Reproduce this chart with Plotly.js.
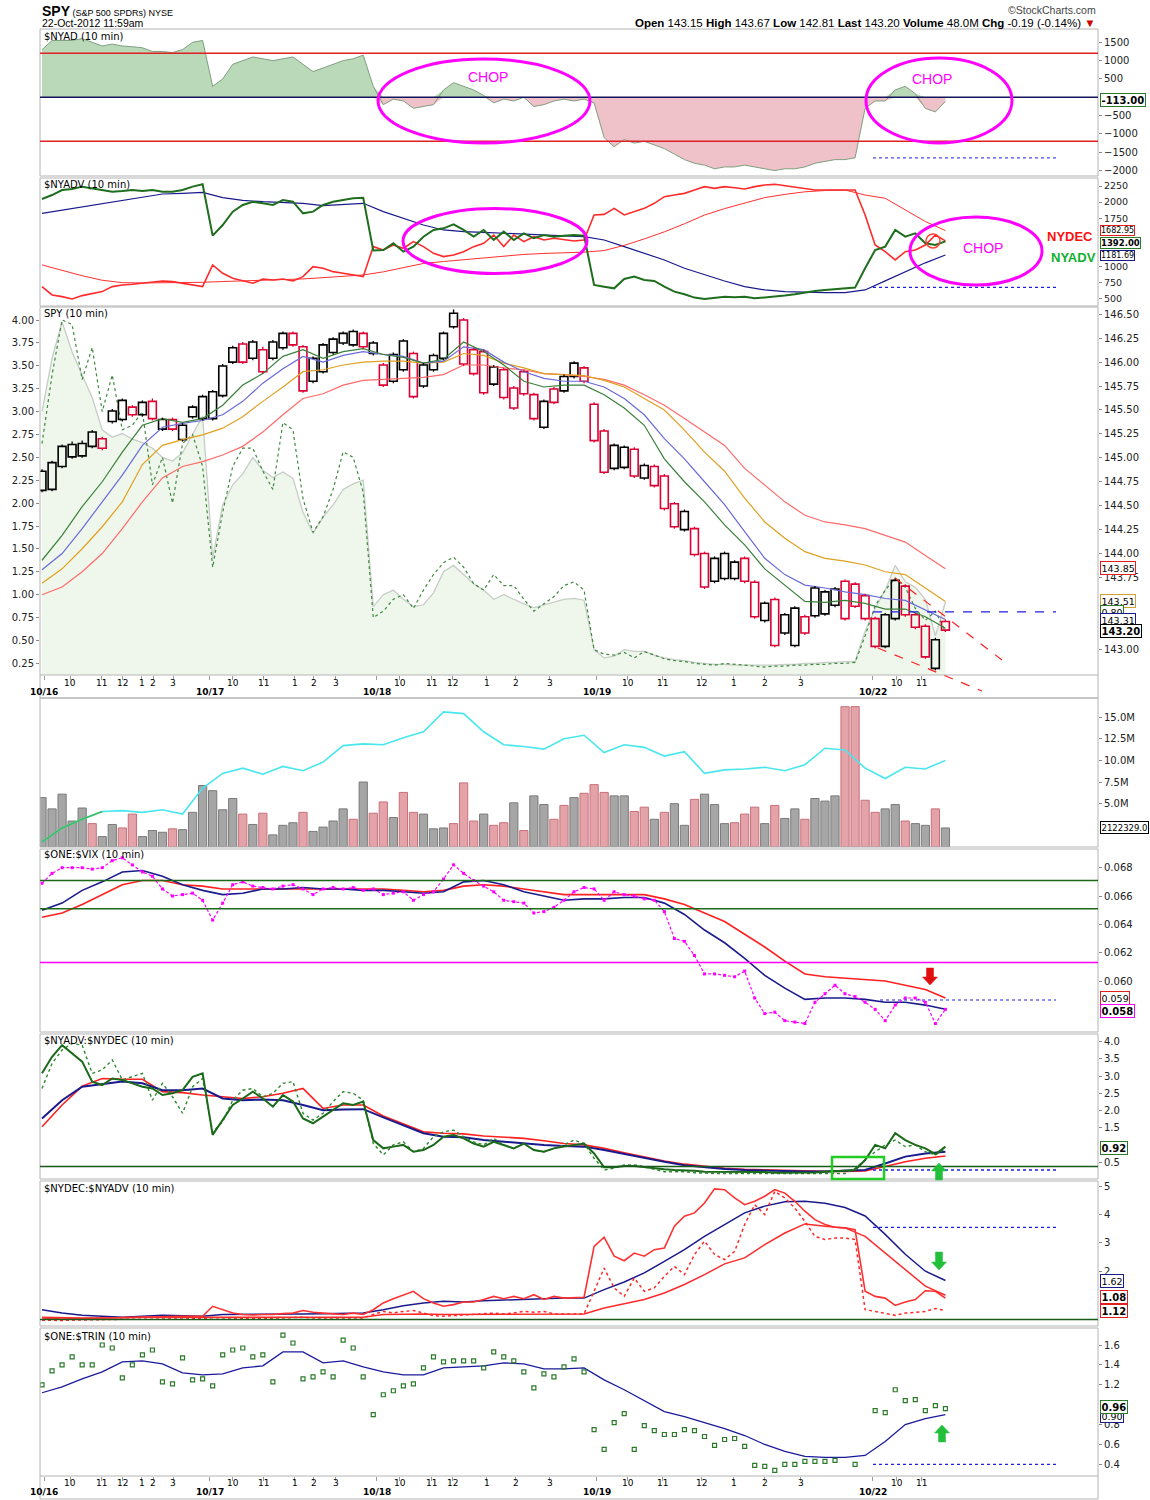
<!DOCTYPE html>
<html><head><meta charset="utf-8">
<script src="https://cdn.plot.ly/plotly-3.0.1.min.js"></script>
<style>html,body{margin:0;padding:0;background:#fff}</style>
</head><body><div id="chart" style="width:1150px;height:1500px"></div>
<script>
// ================= DATA (10-minute bars, 10/16 – 10/22 11:59am) =================
// Tick labels (positions are bar-index positions on the time axis)
const hourTickPos = [2.79,5.88,7.97,9.96,11.06,13.05, 19.02,22.11,25.2,27.09,29.28, 35.66,38.84,40.94,44.32,47.21,50.6, 58.37,61.85,65.74,68.92,72.01,75.6, 85.16,87.65];
const hourTickLab = ['10','11','12','1','2','3', '10','11','1','2','3', '10','11','12','1','2','3', '10','11','12','1','2','3', '10','11'];
const dayTickPos = [0.2,16.73,33.37,55.28,82.77];
const dayTickLab = ['10/16','10/17','10/18','10/19','10/22'];

// $NYAD
const nyad = [1300,1550,1550,1550,1600,1500,1400,1450,1400,1380, 1350,1250,1250,1220,1300,1500,1550,300,500,900, 1000,1100,1050,1000,1050,1100,900,700,800,900, 1000,1050,1150,300,-200,-50,-100,-300,-250,-200, 200,400,300,200,50,-150,-50,-100,0,-250, -200,-100,-50,-100,-50,-150,-1100,-1350,-1150,-1250, -1200,-1300,-1400,-1550,-1700,-1800,-1850,-1950,-1900,-1900, -1850,-1900,-1950,-2000,-1950,-1950,-1900,-1800,-1750,-1700, -1700,-1650,-300,-100,-100,200,300,100,-300,-400,-113];
const nyadLevels = [1200, -1200];

// $NYADV / $NYDEC
const nyadv = [2049,2110,2188,2203,2240,2214,2188,2162,2172,2188, 2172,2188,2162,2162,2188,2240,2276,1481,1646,1853, 1956,2007,1982,1956,2033,2007,1827,1853,1956,2007, 2033,2059,2069,1250,1259,1362,1233,1311,1465,1569, 1594,1656,1569,1465,1569,1414,1543,1414,1517,1440, 1491,1465,1481,1491,1481,717,691,665,810,846, 794,779,691,614,572,521,500,521,536,526, 536,510,521,531,552,572,603,624,640,650, 665,676,975,1259,1311,1569,1465,1517,1362,1336,1392];
const nydec = [691,562,536,500,552,588,614,691,717,727, 743,758,779,769,743,717,691,1027,898,820, 779,743,810,794,810,779,846,1001,975,923, 898,872,846,1311,1259,1336,1285,1388,1311,1207, 1156,1181,1233,1311,1362,1491,1311,1491,1388,1465, 1414,1440,1414,1398,1414,1801,1811,1904,1801,1853, 1904,1982,2085,2110,2136,2188,2240,2214,2240,2224, 2203,2240,2265,2276,2255,2240,2214,2188,2188,2188, 2188,2188,1801,1336,1233,1104,1233,1259,1336,1491,1400];
const nyadvMA = [1827,1878,1930,1982,2033,2085,2126,2136,2152,2069, 2028,2007,1997,1982,1945,1966,1982,1853,1749,1646, 1569,1543,1533,1517,1501,1491,1476,1465,1414,1311, 1207,1104,975,872,779,691,640,614,603,598, 598,640,780,920,1060,1181];
const nydecMA = [1027,940,860,790,753,748,748,753,758,770, 779,790,800,810,830,850,872,920,990,1050, 1080,1110,1140,1170,1190,1205,1215,1225,1250,1330, 1430,1540,1665,1800,1900,1990,2070,2120,2160,2180, 2188,2110,2060,1880,1700,1560];

// SPY candles
const spyOpen = [144.66,144.67,144.91,145.01,145.02,145.12,145.20,145.38,145.40,145.53, 145.45,145.59,145.30,145.40,145.19,145.43,145.41,145.41,145.65,146.00, 146.19,146.04,146.13,146.04,146.15,146.30,146.16,145.80,145.90,146.10, 146.20,146.18,146.30,146.09,145.97,145.80,145.92,146.09,145.75,145.92, 146.04,146.37,146.44,146.13,146.11,145.77,145.92,145.73,145.90,145.66, 145.32,145.72,145.70,145.85,145.94,145.56,145.28,144.89,144.90,145.09, 144.79,144.91,144.81,144.52,144.25,144.26,144.00,143.71,143.74,143.74, 143.95,143.70,143.30,143.52,143.17,143.04,143.34,143.35,143.37,143.46, 143.71,143.68,143.56,143.32,143.03,143.32,143.66,143.36,143.24,142.80,143.29];
const spyClose = [144.86,144.95,145.12,145.14,145.15,145.27,145.10,145.49,145.60,145.45, 145.58,145.41,145.40,145.30,145.34,145.53,145.64,145.69,145.96,146.15, 146.00,146.21,145.90,146.21,146.30,146.18,145.70,146.04,146.18,146.24, 146.30,146.32,146.16,146.20,145.76,146.08,146.22,145.64,145.97,146.07, 146.30,146.51,145.98,145.88,145.68,145.95,145.63,145.52,145.67,145.41, 145.59,145.58,145.85,145.99,145.80,145.18,144.85,145.13,145.11,144.81, 144.92,144.71,144.47,144.28,144.44,143.99,143.65,143.95,144.00,143.91, 143.71,143.34,143.48,143.04,143.36,143.43,143.17,143.64,143.60,143.63, 143.32,143.45,143.32,143.03,143.36,143.72,143.36,143.23,142.92,143.10,143.20];
const spyHigh = [144.88,144.97,145.14,145.17,145.18,145.29,145.22,145.51,145.62,145.55, 145.60,145.62,145.42,145.42,145.36,145.55,145.66,145.71,145.98,146.17, 146.21,146.23,146.16,146.23,146.32,146.32,146.18,146.06,146.20,146.26, 146.32,146.34,146.32,146.22,145.99,146.10,146.24,146.11,145.99,146.09, 146.32,146.55,146.46,146.15,146.13,145.97,145.94,145.75,145.92,145.68, 145.61,145.74,145.87,146.01,145.96,145.58,145.30,145.15,145.13,145.11, 144.94,144.93,144.83,144.54,144.46,144.28,144.02,143.97,144.02,143.93, 143.97,143.72,143.50,143.54,143.38,143.45,143.36,143.66,143.62,143.65, 143.73,143.70,143.58,143.34,143.38,143.74,143.68,143.38,143.26,143.12,143.31];
const spyLow = [144.64,144.65,144.89,144.99,145.00,145.10,145.08,145.36,145.38,145.43, 145.43,145.39,145.28,145.28,145.17,145.41,145.39,145.39,145.63,145.98, 145.98,146.02,145.88,146.02,146.13,146.16,145.68,145.78,145.88,146.08, 146.18,146.16,146.14,146.07,145.74,145.78,145.90,145.62,145.73,145.90, 146.02,146.35,145.96,145.86,145.66,145.75,145.61,145.50,145.65,145.39, 145.30,145.56,145.68,145.83,145.78,145.16,144.83,144.87,144.88,144.79, 144.77,144.69,144.45,144.26,144.23,143.97,143.63,143.69,143.72,143.72, 143.69,143.32,143.28,143.02,143.15,143.02,143.15,143.33,143.35,143.44, 143.30,143.43,143.30,143.01,143.01,143.30,143.34,143.21,142.90,142.78,143.18];
// SPY moving averages (every second bar)
const maGreen = [143.93,144.19,144.49,144.75,145.06,145.34,145.41,145.37,145.41,145.55, 145.76,145.88,146.06,146.13,146.04,146.11,146.14,146.08,146.05,145.99, 146.03,146.21,146.11,145.97,145.80,145.74,145.76,145.76,145.66,145.52, 145.34,144.99,144.75,144.54,144.30,144.09,143.84,143.67,143.50,143.49, 143.51,143.48,143.42,143.42,143.34,143.22];
const maBlue = [143.83,144.00,144.26,144.54,144.82,145.13,145.32,145.36,145.39,145.45, 145.59,145.78,145.93,146.06,146.00,146.07,146.11,146.08,146.06,145.99, 146.01,146.16,146.13,146.00,145.90,145.83,145.80,145.80,145.74,145.62, 145.45,145.20,144.99,144.75,144.51,144.23,143.95,143.78,143.67,143.64, 143.60,143.57,143.53,143.51,143.41,143.31];
const maOrange = [143.69,143.84,144.05,144.28,144.54,144.93,145.13,145.19,145.24,145.31, 145.43,145.59,145.74,145.90,145.92,145.97,146.00,146.01,146.01,145.99, 146.00,146.09,146.07,145.99,145.94,145.88,145.87,145.86,145.81,145.74, 145.62,145.50,145.29,145.06,144.86,144.58,144.33,144.16,144.02,143.95, 143.92,143.88,143.81,143.78,143.64,143.50];
const maSalmon = [143.57,143.65,143.81,144.00,144.26,144.54,144.79,144.91,144.96,145.03, 145.12,145.27,145.45,145.62,145.67,145.76,145.81,145.82,145.83,145.84, 145.87,145.97,145.97,145.94,145.92,145.88,145.87,145.85,145.82,145.76, 145.66,145.55,145.41,145.27,145.13,144.89,144.72,144.54,144.40,144.33, 144.30,144.26,144.19,144.12,143.98,143.84];
// SPY panel left-axis indicators
const spyIndArea = [3.00,3.58,3.98,3.65,3.40,3.15,2.80,2.72,2.76,2.70, 2.66,2.60,2.50,2.46,2.55,2.75,2.95,1.40,1.98,2.20, 2.32,2.50,2.36,2.28,2.34,2.27,1.90,1.67,1.85,1.98, 2.15,2.21,2.25,0.87,1.00,1.05,0.95,0.87,0.89,1.02, 1.25,1.32,1.22,1.12,1.05,0.95,1.00,0.95,0.90,0.86, 0.89,0.92,0.95,0.96,0.94,0.40,0.31,0.33,0.40,0.38, 0.38,0.34,0.31,0.29,0.28,0.26,0.25,0.24,0.24,0.23, 0.23,0.23,0.23,0.23,0.24,0.24,0.25,0.25,0.26,0.26, 0.27,0.27,0.60,0.85,1.05,1.32,1.14,1.08,0.95,0.55,0.92];
const spyIndDot = [2.65,3.40,4.00,3.95,3.35,3.70,3.00,3.40,2.80,2.85, 3.00,2.20,2.50,2.00,2.65,2.75,2.40,1.30,1.90,2.40, 2.60,2.60,2.35,2.15,2.88,2.80,2.05,1.68,1.85,2.15, 2.56,2.50,2.12,0.75,0.82,0.95,1.00,0.85,1.05,1.22, 1.35,1.41,1.30,1.12,1.05,1.22,1.10,1.10,0.95,0.82, 0.90,0.98,1.10,1.14,1.05,0.40,0.35,0.34,0.37,0.31, 0.38,0.34,0.30,0.28,0.27,0.25,0.24,0.23,0.25,0.24, 0.23,0.22,0.21,0.22,0.22,0.23,0.23,0.24,0.24,0.25, 0.25,0.26,0.55,0.88,1.05,1.18,1.08,0.85,0.72,0.82,0.60];

// Volume (millions) and bar direction (u = up/grey, d = down/pink)
const volume = [5.7,4.4,6.1,3.0,4.5,2.7,1.2,2.6,2.2,3.8, 1.2,1.9,1.7,2.1,2.0,4.0,7.1,6.5,4.3,5.6, 3.8,2.6,3.9,1.4,2.5,2.8,4.0,1.8,2.3,3.0, 4.4,3.2,7.5,3.9,5.2,3.4,6.3,4.0,3.8,2.1, 2.2,2.7,7.4,3.0,3.8,2.5,2.8,5.1,1.9,5.9, 4.9,3.2,4.8,5.7,6.2,7.2,6.3,5.9,5.9,4.1, 4.6,3.2,4.0,5.0,2.5,5.5,6.1,4.9,2.7,2.8, 3.8,4.6,2.7,4.8,3.3,4.4,3.2,5.6,5.3,5.9, 16.2,16.2,5.4,4.0,4.4,4.9,3.0,2.7,2.5,4.4,2.2];
const volumeDir = 'uuuuuduudduuuduuuuuududuuuduuuududdudduuudddudduduudduddduudduduuduuuddduduuduuudddduuduudud'.split('');
const volumeMA = [0.6,2.2,3.2,4.1,4.2,4.0,4.3,3.8,6.8,8.5, 9.1,8.4,9.3,8.8,9.8,11.7,11.9,11.8,12.6,13.3, 15.6,15.4,13.3,11.8,11.6,11.3,12.5,12.9,10.9,11.8, 11.5,10.5,11.0,8.5,8.9,9.0,9.2,8.8,9.5,11.4, 11.2,9.1,7.9,9.2,9.0,10.0];

// $ONE:$VIX
const oneVix = [0.0669,0.0676,0.0680,0.0680,0.0680,0.0679,0.0680,0.0685,0.0687,0.0682, 0.0677,0.0674,0.0665,0.0660,0.0661,0.0662,0.0657,0.0643,0.0655,0.0668, 0.0670,0.0667,0.0666,0.0665,0.0667,0.0668,0.0665,0.0661,0.0665,0.0666, 0.0665,0.0666,0.0664,0.0665,0.0661,0.0662,0.0663,0.0657,0.0661,0.0663, 0.0672,0.0682,0.0676,0.0671,0.0667,0.0663,0.0657,0.0656,0.0655,0.0648, 0.0649,0.0652,0.0657,0.0663,0.0666,0.0665,0.0657,0.0663,0.0661,0.0660, 0.0658,0.0657,0.0649,0.0630,0.0628,0.0618,0.0605,0.0605,0.0604,0.0603, 0.0607,0.0588,0.0577,0.0578,0.0572,0.0571,0.0570,0.0585,0.0591,0.0597, 0.0591,0.0589,0.0585,0.0580,0.0572,0.0583,0.0588,0.0588,0.0585,0.0570,0.0580];
const oneVixMAfast = [0.0650,0.0655,0.0664,0.0670,0.0677,0.0678,0.0674,0.0668,0.0664,0.0661, 0.0662,0.0665,0.0665,0.0666,0.0665,0.0665,0.0664,0.0664,0.0663,0.0662, 0.0663,0.0670,0.0671,0.0668,0.0663,0.0660,0.0657,0.0658,0.0658,0.0659, 0.0659,0.0655,0.0647,0.0636,0.0627,0.0616,0.0604,0.0595,0.0587,0.0588, 0.0588,0.0587,0.0585,0.0585,0.0583,0.0580];
const oneVixMAslow = [0.0645,0.0648,0.0654,0.0661,0.0668,0.0671,0.0671,0.0668,0.0667,0.0665, 0.0665,0.0665,0.0665,0.0665,0.0665,0.0665,0.0665,0.0665,0.0664,0.0663, 0.0664,0.0667,0.0668,0.0667,0.0665,0.0663,0.0661,0.0661,0.0661,0.0661, 0.0661,0.0658,0.0654,0.0648,0.0642,0.0633,0.0624,0.0614,0.0605,0.0603, 0.0602,0.0601,0.0600,0.0597,0.0594,0.0588];
const vixLevelsGreen = [0.0671, 0.0651];
const vixLevelMagenta = [0.0613];

// $NYADV:$NYDEC
const advDec = [3.08,3.56,3.90,3.66,3.42,2.84,2.74,2.93,2.89,2.79, 2.69,2.64,2.45,2.50,2.59,2.98,3.08,1.29,1.72,2.16, 2.35,2.55,2.35,2.11,2.45,2.26,1.77,1.63,1.82,2.01, 2.21,2.16,2.26,1.14,0.90,0.95,1.00,0.80,0.85,1.00, 1.24,1.29,1.19,1.04,0.95,1.09,1.00,0.90,1.04,0.85, 0.80,0.90,0.95,1.00,1.04,0.75,0.35,0.35,0.39,0.39, 0.35,0.32,0.29,0.27,0.27,0.25,0.22,0.22,0.22,0.22, 0.22,0.22,0.21,0.19,0.19,0.19,0.19,0.20,0.22,0.24, 0.24,0.27,0.56,1.00,0.90,1.34,1.14,1.00,0.90,0.73,0.95];
const advDecDot = [2.64,3.37,3.76,3.95,3.90,3.08,3.18,3.47,2.89,2.98, 3.08,2.30,2.79,2.40,1.92,2.69,2.93,1.38,1.67,2.30, 2.59,2.64,2.40,2.50,2.79,2.84,1.92,1.72,1.92,2.26, 2.55,2.50,2.30,1.04,0.71,1.00,1.09,0.80,0.90,1.24, 1.38,1.43,1.24,1.09,1.00,1.19,1.00,0.90,1.04,0.85, 0.80,0.90,1.00,1.14,1.04,0.61,0.27,0.32,0.42,0.42, 0.37,0.29,0.22,0.22,0.22,0.19,0.17,0.17,0.17,0.17, 0.17,0.17,0.17,0.17,0.17,0.17,0.17,0.17,0.17,0.17, 0.17,0.32,0.56,0.80,1.00,1.14,0.95,1.00,0.80,0.71,0.90];
const advDecMAnavy = [1.77,2.30,2.69,2.77,2.84,2.79,2.59,2.59,2.64,2.35, 2.30,2.32,2.30,2.16,2.01,2.03,2.04,1.80,1.58,1.34, 1.24,1.22,1.14,1.09,1.04,1.00,0.97,0.95,0.85,0.73, 0.61,0.51,0.41,0.35,0.30,0.27,0.25,0.23,0.23,0.23, 0.24,0.27,0.46,0.66,0.75,0.80];
const advDecMAred = [1.53,2.16,2.71,2.93,2.91,2.91,2.55,2.52,2.45,2.40, 2.35,2.40,2.50,2.64,2.06,2.16,2.16,1.84,1.61,1.38, 1.34,1.32,1.26,1.22,1.19,1.12,1.04,1.00,0.90,0.77, 0.64,0.53,0.44,0.37,0.32,0.29,0.27,0.25,0.24,0.23, 0.23,0.24,0.37,0.51,0.61,0.68];
const advDecLevel = [0.37];

// $NYDEC:$NYADV
const decAdv = [0.35,0.33,0.31,0.32,0.33,0.34,0.35,0.35,0.36,0.37, 0.38,0.39,0.40,0.41,0.41,0.41,0.41,0.76,0.64,0.52, 0.47,0.45,0.47,0.47,0.50,0.52,0.61,0.55,0.52,0.50, 0.47,0.52,0.47,0.64,0.88,1.03,1.15,1.29,1.03,0.88, 0.76,0.82,0.91,0.91,1.00,1.11,1.03,1.11,1.03,1.17, 1.00,1.11,1.05,1.07,1.08,2.88,3.20,2.53,2.37,2.64, 2.53,2.76,2.82,3.59,3.94,4.06,4.41,4.91,4.88,4.59, 4.35,4.47,4.65,4.88,4.76,4.47,4.12,3.82,3.65,3.55, 3.53,3.47,1.29,1.11,1.05,0.79,0.91,1.00,1.31,1.29,1.05];
const decAdvDot = [0.27,0.26,0.26,0.27,0.28,0.28,0.29,0.29,0.30,0.30, 0.30,0.31,0.31,0.32,0.32,0.32,0.32,0.36,0.35,0.33, 0.33,0.33,0.33,0.34,0.34,0.35,0.37,0.35,0.35,0.34, 0.34,0.35,0.35,0.47,0.58,0.52,0.58,0.61,0.52,0.43, 0.41,0.43,0.47,0.47,0.49,0.52,0.49,0.52,0.58,0.55, 0.58,0.49,0.49,0.49,0.49,1.29,2.11,1.41,1.11,1.76, 1.29,1.41,1.82,2.17,1.88,2.59,3.06,2.59,2.41,2.70, 3.65,4.35,4.00,4.82,4.59,4.23,3.76,3.23,3.12,3.17, 3.17,3.12,0.64,0.58,0.52,0.44,0.52,0.55,0.58,0.68,0.61];
const decAdvMAnavy = [0.64,0.52,0.44,0.41,0.37,0.41,0.44,0.43,0.41,0.47, 0.47,0.47,0.47,0.49,0.50,0.52,0.52,0.64,0.78,0.88, 0.94,0.91,0.96,0.98,1.01,1.03,1.05,1.05,1.35,1.62, 1.94,2.35,2.76,3.23,3.65,4.06,4.30,4.45,4.47,4.40, 4.25,3.95,3.30,2.60,2.00,1.67];
const decAdvMAred = [0.37,0.35,0.35,0.35,0.37,0.37,0.37,0.37,0.37,0.37, 0.37,0.37,0.37,0.37,0.37,0.37,0.37,0.47,0.49,0.49, 0.47,0.47,0.47,0.47,0.47,0.49,0.49,0.49,0.70,0.84, 1.00,1.23,1.53,1.88,2.26,2.47,2.94,3.35,3.67,3.59, 3.53,3.23,2.64,2.06,1.47,1.15];
const decAdvLevel = [0.29];

// $ONE:$TRIN
const oneTrin = [1.20,1.34,1.40,1.48,1.40,1.40,1.60,1.57,1.27,1.40, 1.50,1.55,1.23,1.21,1.47,1.25,1.26,1.19,1.50,1.55, 1.57,1.48,1.50,1.23,1.70,1.62,1.26,1.28,1.33,1.28, 1.65,1.57,1.28,0.90,1.10,1.14,1.19,1.21,1.37,1.48, 1.43,1.44,1.44,1.44,1.37,1.53,1.48,1.44,1.33,1.17, 1.31,1.28,1.38,1.46,1.33,0.75,0.55,0.82,0.91,0.55, 0.79,0.74,0.70,0.70,0.75,0.74,0.68,0.59,0.65,0.66, 0.58,0.39,0.38,0.34,0.40,0.40,0.43,0.43,0.43,0.44, null,0.40,null,0.94,0.92,1.15,1.04,1.05,0.94,0.99,0.96];
const oneTrinMA = [1.12,1.18,1.26,1.33,1.43,1.44,1.41,1.32,1.30,1.31, 1.37,1.39,1.53,1.53,1.42,1.44,1.38,1.33,1.30,1.30, 1.37,1.38,1.39,1.42,1.41,1.36,1.36,1.37,1.25,1.15, 1.04,0.93,0.88,0.82,0.76,0.69,0.60,0.53,0.48,0.47, 0.47,0.49,0.63,0.80,0.86,0.90];

// Dotted "last level" marks drawn by the chartist
const markNyad = -1650, markNyadv = 680, markSpy = 143.39, markVix = 0.05866, markAdvDec = 0.27, markDecAdv = 3.55, markTrin = 0.40;

// ================= LAYOUT HELPERS =================
const W = 1150, H = 1500, XL = 40, XR = 1098;
const px = x => x / W, py = y => 1 - y / H;
const dom = (t, b) => [1 - b / H, 1 - t / H];
const grid = nyad.map((_, i) => i);
const half = nyadvMA.map((_, k) => 2 * k);
const FONT = 'DejaVu Sans, Verdana, sans-serif';
const NARROW = 'Liberation Sans Narrow, Arial Narrow, Liberation Sans, sans-serif';

const L = (x, y, color, width, extra) => Object.assign({type:'scatter', mode:'lines', x, y, line:{color, width}, hoverinfo:'skip'}, extra || {});

const traces = [];
// NYAD
traces.push(L(grid, nyad.map(v => Math.max(v, 0)), 'rgba(0,0,0,0)', 0, {fill:'tozeroy', fillcolor:'#b9d9b9', xaxis:'x', yaxis:'y'}));
traces.push(L(grid, nyad.map(v => Math.min(v, 0)), 'rgba(0,0,0,0)', 0, {fill:'tozeroy', fillcolor:'#efc1c8', xaxis:'x', yaxis:'y'}));
traces.push(L(grid, nyad, '#7f9f7f', 1, {xaxis:'x', yaxis:'y'}));
// NYADV
traces.push(L(half, nyadvMA, '#1a1a8c', 1.2, {xaxis:'x', yaxis:'y2'}));
traces.push(L(half, nydecMA, '#ff3030', 1, {xaxis:'x', yaxis:'y2'}));
traces.push(L(grid, nydec, '#ff2a2a', 1.6, {xaxis:'x', yaxis:'y2'}));
traces.push(L(grid, nyadv, '#1e6e1e', 2, {xaxis:'x', yaxis:'y2'}));
// SPY indicators (left axis)
traces.push(L(grid, spyIndArea, '#c6cdc6', 1.3, {fill:'tozeroy', fillcolor:'#eff7ec', xaxis:'x', yaxis:'y3'}));
traces.push(L(grid, spyIndDot, '#3e8a3e', 1.2, {xaxis:'x', yaxis:'y3', line:{color:'#3e8a3e', width:1.2, dash:'dot'}}));
// SPY MAs (right axis)
traces.push(L(half, maSalmon, '#ff6a6a', 1.2, {xaxis:'x', yaxis:'y4'}));
traces.push(L(half, maOrange, '#e0a020', 1.2, {xaxis:'x', yaxis:'y4'}));
traces.push(L(half, maBlue, '#6a6ad8', 1.2, {xaxis:'x', yaxis:'y4'}));
traces.push(L(half, maGreen, '#3a803a', 1.2, {xaxis:'x', yaxis:'y4'}));
// SPY hollow candles: wick segments + hollow bodies
const UP = '#000000', DN = '#dd0033';
const isUp = grid.map(i => spyClose[i] >= spyOpen[i]);
const wick = up => {
  const xs = [], ys = [];
  grid.forEach(i => {
    if (isUp[i] !== up) return;
    const lo = Math.min(spyOpen[i], spyClose[i]), hi = Math.max(spyOpen[i], spyClose[i]);
    xs.push(i, i, null, i, i, null); ys.push(spyLow[i], lo, null, hi, spyHigh[i], null);
  });
  return L(xs, ys, up ? UP : DN, 1.3, {xaxis:'x', yaxis:'y4'});
};
traces.push(wick(true), wick(false));
traces.push({type:'bar', x:grid, y:grid.map(i => Math.abs(spyClose[i] - spyOpen[i])), base:grid.map(i => Math.min(spyOpen[i], spyClose[i])),
  width:0.78, xaxis:'x', yaxis:'y4', hoverinfo:'skip',
  marker:{color:'rgba(0,0,0,0)', line:{color:isUp.map(u => u ? UP : DN), width:1.6}}});
// Volume
traces.push({type:'bar', x:grid, y:volume, xaxis:'x2', yaxis:'y5', hoverinfo:'skip', width:0.82,
  marker:{color:volumeDir.map(d => d === 'u' ? '#a6a6a6' : '#e3a3a8'),
          line:{color:volumeDir.map(d => d === 'u' ? '#7a7a7a' : '#c8707a'), width:1}}});
traces.push(L(half, volumeMA, '#48e6ee', 1.6, {xaxis:'x2', yaxis:'y5'}));
traces.push(L(half.slice(0, 4), volumeMA.slice(0, 4), '#3cbf5a', 1.6, {xaxis:'x2', yaxis:'y5'}));
// VIX
traces.push(L(half, oneVixMAslow, '#ff2020', 1.6, {xaxis:'x2', yaxis:'y6'}));
traces.push(L(half, oneVixMAfast, '#1a1a8c', 1.6, {xaxis:'x2', yaxis:'y6'}));
traces.push({type:'scatter', mode:'lines+markers', x:grid, y:oneVix, xaxis:'x2', yaxis:'y6', hoverinfo:'skip',
  line:{color:'#ff00ff', width:1.2, dash:'3px,2px'}, marker:{symbol:'square', size:3, color:'#ff00ff'}});
// ADV:DEC
traces.push(L(half, advDecMAred, '#ff2020', 1.6, {xaxis:'x2', yaxis:'y7'}));
traces.push(L(half, advDecMAnavy, '#1a1a8c', 2, {xaxis:'x2', yaxis:'y7'}));
traces.push(L(grid, advDecDot, '#2e8a2e', 1.4, {xaxis:'x2', yaxis:'y7', line:{color:'#2e8a2e', width:1.4, dash:'dot'}}));
traces.push(L(grid, advDec, '#1a6a1a', 2, {xaxis:'x2', yaxis:'y7'}));
// DEC:ADV
traces.push(L(half, decAdvMAnavy, '#1a1a8c', 1.5, {xaxis:'x2', yaxis:'y8'}));
traces.push(L(half, decAdvMAred, '#ff2a2a', 1.5, {xaxis:'x2', yaxis:'y8'}));
traces.push(L(grid, decAdvDot, '#ff2a2a', 1.5, {xaxis:'x2', yaxis:'y8', line:{color:'#ff2a2a', width:1.5, dash:'dot'}}));
traces.push(L(grid, decAdv, '#ff3030', 1.6, {xaxis:'x2', yaxis:'y8'}));
// TRIN
traces.push(L(half, oneTrinMA, '#1a1a9c', 1.3, {xaxis:'x2', yaxis:'y9'}));
traces.push({type:'scatter', mode:'markers', x:grid, y:oneTrin, xaxis:'x2', yaxis:'y9', hoverinfo:'skip',
  marker:{symbol:'square-open', size:4, color:'#2a7a2a', line:{width:1.2}}});

// ================= AXES =================
const allTicks = hourTickPos.concat(dayTickPos);
const xBase = {domain:[px(XL), px(XR)], range:[-0.2, 105.2], showgrid:false, zeroline:false, showline:false,
  tickvals:allTicks, ticks:'outside', ticklen:4, tickcolor:'#999', showticklabels:false, fixedrange:true};
const yBase = (top, bottom, range, tickvals, extra) => Object.assign({domain:dom(top, bottom), range, tickvals,
  side:'right', anchor:'x', showgrid:false, zeroline:false, showline:false, ticks:'outside', ticklen:3, tickcolor:'#888',
  tickfont:{family:FONT, size:10, color:'#222'}, fixedrange:true}, extra || {});

const layout = {
  width:W, height:H, margin:{l:0, r:0, t:0, b:0}, paper_bgcolor:'#fff', plot_bgcolor:'rgba(0,0,0,0)',
  showlegend:false, barmode:'overlay', font:{family:FONT, size:10, color:'#111'},
  xaxis:Object.assign({}, xBase, {anchor:'y3'}),
  xaxis2:Object.assign({}, xBase, {anchor:'y9'}),
  yaxis:yBase(29, 176, [-2147, 1863], [1500,1000,500,-500,-1000,-1500,-2000]),
  yaxis2:yBase(178, 306, [391, 2374], [2250,2000,1750,1000,750,500], {tickfont:{family:FONT, size:9.5, color:'#222'}}),
  yaxis3:yBase(307, 675, [0.123, 4.142], [0.25,0.5,0.75,1,1.25,1.5,1.75,2,2.25,2.5,2.75,3,3.25,3.5,3.75,4], {side:'left', tickformat:'.2f'}),
  yaxis4:{overlaying:'y3', side:'right', anchor:'x', range:[142.731, 146.576], showgrid:false, zeroline:false,
    tickvals:[143,143.75,144,144.25,144.5,144.75,145,145.25,145.5,145.75,146,146.25,146.5], tickformat:'.2f',
    ticks:'outside', ticklen:3, tickcolor:'#888', tickfont:{family:FONT, size:10, color:'#222'}, fixedrange:true},
  yaxis5:yBase(698, 847, [0, 17.2], [5,7.5,10,12.5,15], {anchor:'x2', ticktext:['5.0M','7.5M','10.0M','12.5M','15.0M']}),
  yaxis6:yBase(849, 1032, [0.0564, 0.06932], [0.060,0.062,0.064,0.066,0.068], {anchor:'x2', tickformat:'.3f'}),
  yaxis7:yBase(1034, 1179, [0.009, 4.224], [0.5,1.5,2,2.5,3,3.5,4], {anchor:'x2', tickformat:'.1f'}),
  yaxis8:yBase(1181, 1326, [0.064, 5.187], [2,3,4,5], {anchor:'x2'}),
  yaxis9:yBase(1328, 1476, [0.283, 1.771], [0.4,0.6,0.8,1.2,1.4,1.6], {anchor:'x2', tickformat:'.1f'}),
  shapes:[], annotations:[]
};

// ================= SHAPES =================
const S = layout.shapes;
const frame = '#b4b4b4';
const rect = (x0, y0, x1, y1, color, width) => S.push({type:'rect', xref:'paper', yref:'paper', x0:px(x0), x1:px(x1), y0:py(y0), y1:py(y1), line:{color, width}, layer:'above'});
rect(XL, 29, XR, 176, frame, 1);
rect(XL, 178, XR, 306, frame, 1);
rect(XL, 307, XR, 698, frame, 1);
rect(XL, 698, XR, 847, frame, 1);
rect(XL, 849, XR, 1032, frame, 1);
rect(XL, 1034, XR, 1179, frame, 1);
rect(XL, 1181, XR, 1326, frame, 1);
rect(XL, 1328, XR, 1499, frame, 1);
S.push({type:'line', xref:'paper', yref:'paper', x0:px(XL), x1:px(XR), y0:py(675), y1:py(675), line:{color:frame, width:1}});
S.push({type:'line', xref:'paper', yref:'paper', x0:px(XL), x1:px(XR), y0:py(1476), y1:py(1476), line:{color:frame, width:1}});

const hline = (yref, v, color, width, dash, x0, x1) => S.push({type:'line', xref:'paper', yref, x0:px(x0 || XL), x1:px(x1 || XR), y0:v, y1:v, line:{color, width, dash:dash || 'solid'}, layer:'above'});
nyadLevels.forEach(v => hline('y', v, '#e02020', 1.4));
hline('y', 0, '#14145a', 1.4);
vixLevelsGreen.forEach(v => hline('y6', v, '#1a6a1a', 1.5));
vixLevelMagenta.forEach(v => hline('y6', v, '#ff00ff', 1.5));
advDecLevel.forEach(v => hline('y7', v, '#1a5a1a', 1.5));
decAdvLevel.forEach(v => hline('y8', v, '#1a5a1a', 1.5));
// chartist's dotted marks
const MX0 = 873, MX1 = 1056;
hline('y', markNyad, '#4a4ae8', 1.2, 'dot', MX0, MX1);
hline('y2', markNyadv, '#2020e0', 1.4, 'dot', MX0, MX1);
hline('y4', markSpy, '#2020e0', 1.2, 'dash', MX0, MX1);
hline('y6', markVix, '#2020e0', 1.2, 'dot', 880, MX1);
hline('y7', markAdvDec, '#2020e0', 1.4, 'dot', MX0, MX1);
hline('y8', markDecAdv, '#2020e0', 1.2, 'dot', MX0, MX1);
hline('y9', markTrin, '#2020e0', 1.4, 'dot', MX0, MX1);

// hand-drawn annotations
const ell = (cx, cy, rx, ry, color, width) => S.push({type:'circle', xref:'paper', yref:'paper', x0:px(cx - rx), x1:px(cx + rx), y0:py(cy + ry), y1:py(cy - ry), line:{color, width}, layer:'above'});
ell(484, 101, 106, 42, '#ff00ff', 3);
ell(939, 100.5, 73, 42.5, '#ff00ff', 3);
ell(495, 241, 92, 32.5, '#ff00ff', 3);
ell(976, 251, 66, 34, '#ff00ff', 3);
ell(933, 241, 7, 7, '#ff4030', 1.5);
const seg = (x0, y0, x1, y1, color, width, dash) => S.push({type:'line', xref:'paper', yref:'paper', x0:px(x0), y0:py(y0), x1:px(x1), y1:py(y1), line:{color, width, dash}, layer:'above'});
seg(895, 578, 1002, 660, '#ff2020', 1.2, 'dash');
seg(878, 648, 982, 691, '#ff2020', 1.2, 'dash');
rect(832, 1157, 884, 1179, '#22cc22', 2.5);
const arrow = (cx, yBase, yTip, color) => {
  const dir = yTip > yBase ? 1 : -1, w = 3.5, hw = 7.5, hl = 8;
  const pts = [[cx - w, yBase], [cx + w, yBase], [cx + w, yTip - dir * hl], [cx + hw, yTip - dir * hl], [cx, yTip], [cx - hw, yTip - dir * hl], [cx - w, yTip - dir * hl]];
  const path = 'M' + pts.map(p => px(p[0]) + ',' + py(p[1])).join(' L') + ' Z';
  S.push({type:'path', xref:'paper', yref:'paper', path, fillcolor:color, line:{color, width:0.5}, layer:'above'});
};
arrow(930, 968, 985, '#e01010');
arrow(939, 1180, 1163, '#22c03a');
arrow(939, 1252, 1270, '#22c03a');
arrow(942, 1442, 1425, '#22c03a');

// ================= ANNOTATIONS =================
const A = layout.annotations;
const txt = (x, y, text, opts) => A.push(Object.assign({xref:'paper', yref:'paper', x:px(x), y:py(y), text, showarrow:false, xanchor:'left', yanchor:'middle', font:{family:FONT, size:10, color:'#000'}}, opts || {}));
// header
txt(40, 11, '<b>SPY</b><span style="font-size:9px"> (S&amp;P 500 SPDRs) NYSE</span>', {font:{family:NARROW, size:14, color:'#000'}});
txt(40, 22.5, '22-Oct-2012 11:59am', {font:{family:NARROW, size:10.5, color:'#000'}});
txt(1098, 10, '©StockCharts.com', {xanchor:'right', font:{family:NARROW, size:10.5, color:'#444'}});
txt(1098, 22.5, '<b>Open</b> 143.15 <b>High</b> 143.67 <b>Low</b> 142.81 <b>Last</b> 143.20 <b>Volume</b> 48.0M <b>Chg</b> -0.19 (-0.14%) <span style="color:#cc0000">▼</span>', {xanchor:'right', font:{family:NARROW, size:11.5, color:'#000'}});
// panel titles
txt(42, 37, '$NYAD (10 min)');
txt(42, 185, '$NYADV (10 min)');
txt(42, 313, 'SPY (10 min)');
txt(42, 855, '$ONE:$VIX (10 min)');
txt(42, 1040, '$NYADV:$NYDEC (10 min)');
txt(42, 1188, '$NYDEC:$NYADV (10 min)');
txt(42, 1336, '$ONE:$TRIN (10 min)');
// CHOP notes
const chop = {xanchor:'center', font:{family:NARROW, size:14, color:'#ff00ff'}};
txt(488, 77, 'CHOP', chop);
txt(932, 79, 'CHOP', chop);
txt(983, 248, 'CHOP', chop);
txt(1095, 236, '<b>NYDEC</b>', {xanchor:'right', font:{family:NARROW, size:13, color:'#ff1010'}});
txt(1098, 257, '<b>NYADV</b>', {xanchor:'right', font:{family:NARROW, size:13, color:'#10b030'}});
// last-value boxes
const box = (y, text, border, bold, size, pad) => txt(1100, y, bold ? '<b>' + text + '</b>' : text, {bgcolor:'#fff', bordercolor:border, borderwidth:1, borderpad:(pad === undefined ? 0.5 : pad),
  font:{family:FONT, size:size || (bold ? 10 : 9.5), color:'#000'}});
box(100, '-113.00', '#2a7a2a', true);
box(230.5, '1682.95', '#e02020', false, 8, 0);
box(255.5, '1181.69', '#1a1a8c', false, 8, 0);
box(243, '1392.00', '#2a7a2a', true, 8.5, 0);
box(568, '143.85', '#e02020', false);
box(601, '143.51', '#d0a030', false);
box(612, '0.80', '#2a7a2a', false);
box(620, '143.31', '#1a1a8c', false);
box(631, '143.20', '#000', true);
box(827, '2122329.0', '#000', false, 8.5);
box(998, '0.059', '#e02020', false);
box(1011, '0.058', '#ff00ff', true);
box(1148, '0.92', '#2a7a2a', true);
box(1281, '1.62', '#1a1a8c', false);
box(1297, '1.08', '#e02020', true);
box(1311, '1.12', '#e02020', true);
box(1416, '0.90', '#1a1a8c', false);
box(1407, '0.96', '#2a7a2a', true);
// time axis labels (under SPY panel and at bottom)
[['x', 683, 692], ['x2', 1483, 1492]].forEach(([xr, yh, yd]) => {
  hourTickPos.forEach((p, i) => A.push({xref:xr, yref:'paper', x:p, y:py(yh), text:hourTickLab[i], showarrow:false, xanchor:'center', yanchor:'middle', font:{family:FONT, size:9, color:'#000'}}));
  dayTickPos.forEach((p, i) => A.push({xref:xr, yref:'paper', x:p, y:py(yd), text:'<b>' + dayTickLab[i] + '</b>', showarrow:false, xanchor:'center', yanchor:'middle', font:{family:FONT, size:9, color:'#000'}}));
});

Plotly.newPlot('chart', traces, layout, {staticPlot:true, displayModeBar:false});
</script>
</body></html>
